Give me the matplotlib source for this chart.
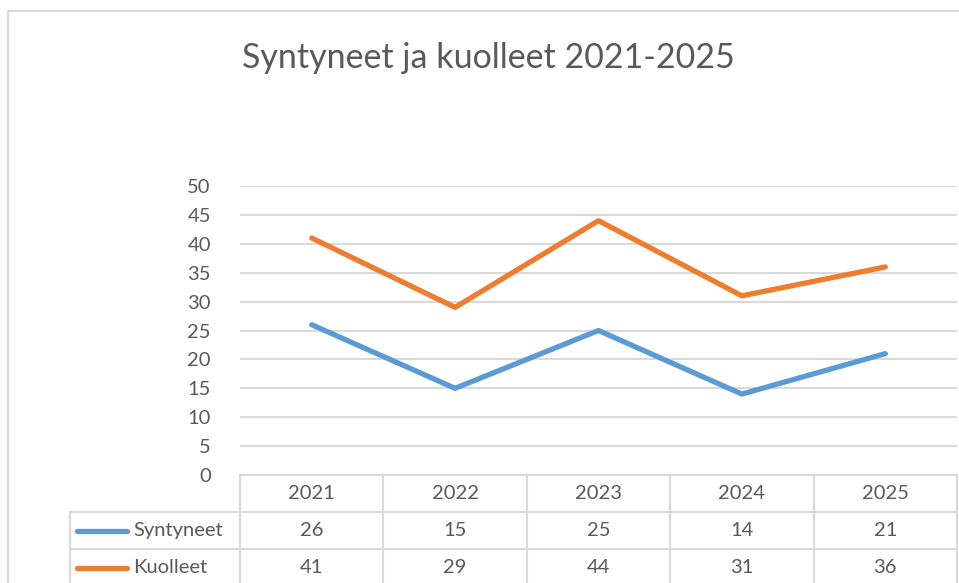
import matplotlib
matplotlib.use("Agg")
import matplotlib.pyplot as plt
from matplotlib.patches import Rectangle

# data
vuodet = ["2021", "2022", "2023", "2024", "2025"]
syntyneet = [26, 15, 25, 14, 21]
kuolleet = [41, 29, 44, 31, 36]
sarjat = ["Syntyneet", "Kuolleet"]
arvot = [syntyneet, kuolleet]
varit = ["#5b9bd5", "#ed7d31"]

plt.rcParams["font.family"] = ["Lato", "DejaVu Sans"]
teksti = "#595959"
viiva = "#d9d9d9"
koko = 14.5

W, H = 959, 583
fig = plt.figure(figsize=(W / 100, H / 100), dpi=100)

# chart frame (cut off on right and bottom)
fig.patches.append(Rectangle((8 / W, -0.1), 1.2, (H - 11) / H + 0.1,
                             transform=fig.transFigure, fill=False,
                             edgecolor=viiva, linewidth=1.5))

ax = fig.add_axes([240 / W, (H - 475) / H, (957 - 240) / W, (475 - 186) / H])
x = list(range(len(vuodet)))
for nimi, y, c in zip(sarjat, arvot, varit):
    ax.plot(x, y, color=c, linewidth=3.8, solid_capstyle="round", zorder=3)

ax.set_xlim(-0.5, 4.5)
ax.set_ylim(0, 50)
ax.set_yticks(range(0, 51, 5))
ax.set_xticks([])
ax.grid(axis="y", color=viiva, linewidth=1.5)
for s in ax.spines.values():
    s.set_visible(False)
ax.tick_params(axis="y", length=0, pad=21, labelsize=koko, labelcolor=teksti)
ax.set_facecolor("none")

# data table under the plot
rivi = 37 / ((475 - 186) / 50)  # row height in data units
vasen = -0.5 - 170 / ((957 - 240) / 5)
kw = dict(color=viiva, linewidth=1.5, clip_on=False, zorder=1)
ax.plot([-0.5, 4.5], [0, 0], **kw)
for r in (1, 2):
    ax.plot([vasen, 4.5], [-r * rivi, -r * rivi], **kw)
for b in [i - 0.5 for i in range(6)]:
    ax.plot([b, b], [0, -3.2 * rivi], **kw)
ax.plot([vasen, vasen], [-rivi, -3.2 * rivi], **kw)

for i, v in enumerate(vuodet):
    ax.text(i, -0.5 * rivi, v, ha="center", va="center", fontsize=koko,
            color=teksti, clip_on=False)
for r, (nimi, y, c) in enumerate(zip(sarjat, arvot, varit)):
    yy = -(r + 1.5) * rivi
    for i, v in enumerate(y):
        ax.text(i, yy, str(v), ha="center", va="center", fontsize=koko,
                color=teksti, clip_on=False)
    ax.plot([vasen + 0.05, vasen + 0.4], [yy, yy], color=c, linewidth=3.8,
            solid_capstyle="round", clip_on=False)
    ax.text(vasen + 0.44, yy, nimi, ha="left", va="center", fontsize=koko,
            color=teksti, clip_on=False)

fig.text(488 / W, 1 - 58 / H, "Syntyneet ja kuolleet 2021-2025", ha="center",
         va="center", fontsize=24.5, color=teksti)

fig.savefig("out.png", dpi=100)
